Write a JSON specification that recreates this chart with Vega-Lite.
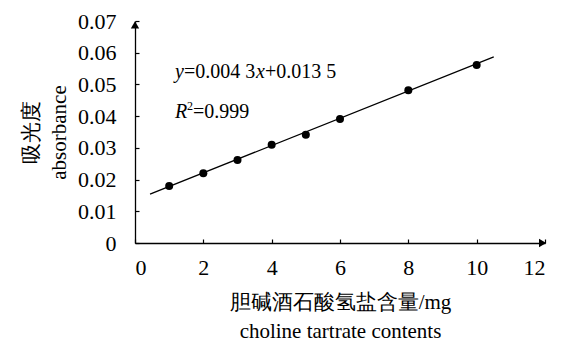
{
  "$schema": "https://vega.github.io/schema/vega-lite/v6.json",
  "width": 410,
  "height": 222,
  "autosize": "none",
  "padding": {"left": 135, "top": 21, "right": 18, "bottom": 101},
  "background": "white",
  "config": {
    "view": {"stroke": null},
    "font": "Liberation Serif",
    "text": {"font": "Liberation Serif"},
    "axis": {
      "grid": false,
      "domainColor": "black",
      "domainWidth": 1.3,
      "tickColor": "black",
      "tickWidth": 1.2,
      "tickSize": -4,
      "labelColor": "black",
      "labelFont": "Liberation Serif",
      "labelFontSize": 22,
      "titleColor": "black",
      "titleFont": "Liberation Serif",
      "titleFontSize": 21,
      "titleFontWeight": "normal"
    }
  },
  "datasets": {
    "pts": [
      {"x": 1, "y": 0.018},
      {"x": 2, "y": 0.022},
      {"x": 3, "y": 0.0262},
      {"x": 4, "y": 0.031},
      {"x": 5, "y": 0.0341},
      {"x": 6, "y": 0.0391},
      {"x": 8, "y": 0.0482},
      {"x": 10, "y": 0.0561}
    ],
    "fit": [
      {"x": 0.44, "y": 0.0154},
      {"x": 10.5, "y": 0.0587}
    ]
  },
  "encoding": {
    "x": {"field": "x", "type": "quantitative",
      "scale": {"domain": [0, 12], "nice": false},
      "axis": {"values": [0, 2, 4, 6, 8, 10, 12], "labelPadding": 18,
        "title": ["胆碱酒石酸氢盐含量/mg", "choline tartrate contents"],
        "titlePadding": 13, "titleLineHeight": 29}},
    "y": {"field": "y", "type": "quantitative",
      "scale": {"domain": [0, 0.07], "nice": false},
      "axis": {"values": [0, 0.01, 0.02, 0.03, 0.04, 0.05, 0.06, 0.07], "format": ".2~f", "labelPadding": 23,
        "title": ["吸光度", "absorbance"], "titlePadding": 8, "titleLineHeight": 28}}
  },
  "layer": [
    {"data": {"name": "fit"}, "mark": {"type": "line", "color": "black", "strokeWidth": 1.3}},
    {"data": {"name": "pts"}, "mark": {"type": "point", "filled": true, "color": "black", "opacity": 1, "size": 64}},
    {"data": {"values": [{"x": 0, "y": 0.0688, "s": "triangle-up"}, {"x": 11.93, "y": 0, "s": "triangle-right"}]},
     "mark": {"type": "point", "filled": true, "color": "black", "opacity": 1, "size": 70},
     "encoding": {"shape": {"field": "s", "type": "nominal", "scale": null}}},
    {"data": {"values": [{"x": 1.17, "y": 0.0538}]},
     "mark": {"type": "text", "text": "y", "fontStyle": "italic", "fontSize": 20, "align": "left", "baseline": "middle"}},
    {"data": {"values": [{"x": 1.17, "y": 0.0538}]},
     "mark": {"type": "text", "text": "=0.004 3", "dx": 9, "fontSize": 20, "align": "left", "baseline": "middle"}},
    {"data": {"values": [{"x": 1.17, "y": 0.0538}]},
     "mark": {"type": "text", "text": "x", "dx": 81, "fontStyle": "italic", "fontSize": 20, "align": "left", "baseline": "middle"}},
    {"data": {"values": [{"x": 1.17, "y": 0.0538}]},
     "mark": {"type": "text", "text": "+0.013 5", "dx": 90, "fontSize": 20, "align": "left", "baseline": "middle"}},
    {"data": {"values": [{"x": 1.17, "y": 0.0414}]},
     "mark": {"type": "text", "text": "R", "fontStyle": "italic", "fontSize": 20, "align": "left", "baseline": "middle"}},
    {"data": {"values": [{"x": 1.17, "y": 0.0414}]},
     "mark": {"type": "text", "text": "2", "dx": 12, "dy": -6, "fontSize": 12, "align": "left", "baseline": "middle"}},
    {"data": {"values": [{"x": 1.17, "y": 0.0414}]},
     "mark": {"type": "text", "text": "=0.999", "dx": 18, "fontSize": 20, "align": "left", "baseline": "middle"}}
  ]
}
